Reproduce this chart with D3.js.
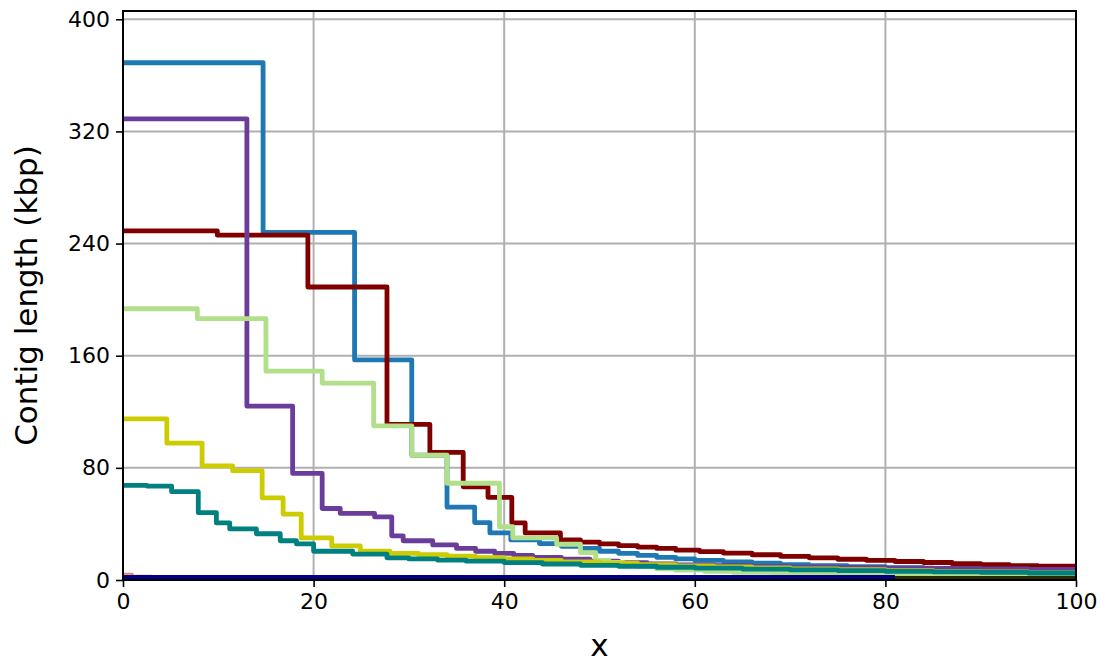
<!DOCTYPE html>
<html>
<head>
<meta charset="utf-8">
<script src="https://cdn.jsdelivr.net/npm/d3@7"></script>
<style>
  body { margin: 0; background: #fff; }
  text { font-family: "DejaVu Sans", sans-serif; }
</style>
</head>
<body>
<div id="chart"></div>
<script>
// step series, x = breakpoint (%), y = contig length (kbp); each step holds until next x
var blueX = [0, 14.7, 24.3, 30.3, 34.0, 36.9, 38.5, 40.7, 43.7, 46, 48, 50, 52, 54, 56, 58, 60, 63, 66, 69, 72, 76, 80, 84, 88, 92, 96, 100];
var blueY = [369, 248, 157, 89, 52, 41, 33.6, 28.6, 26, 24, 22.5, 20.5, 19, 17.5, 16.2, 15, 14, 13, 12, 11, 10.3, 9.5, 8.8, 8.2, 7.7, 7.2, 6.8, 6.4];

var redX = [0, 9.9, 19.4, 27.7, 32.2, 35.7, 38.3, 40.8, 42.2, 45.9, 48, 50, 52, 54, 56, 58, 60.5, 63, 66, 69, 72, 75, 78, 81, 84, 87, 90, 93, 96, 100];
var redY = [249, 246, 209, 111, 91, 66.5, 59, 40.7, 33.6, 28.6, 27, 25.8, 24.5, 23.5, 22.5, 21.3, 20.3, 19.2, 18, 16.8, 15.8, 14.8, 14, 13.2, 12.5, 11.6, 11, 10.3, 9.8, 9.3];

var purpleX = [0, 13.0, 17.8, 20.9, 22.8, 26.4, 28.2, 29.4, 32.5, 35, 37, 39, 41, 43, 46, 49, 52, 55, 58, 62, 66, 70, 75, 80, 85, 90, 95, 100];
var purpleY = [329, 124, 76, 51, 47.5, 45, 31.5, 28, 25, 22.5, 20.5, 19, 17.5, 16.2, 14.8, 13.5, 12.4, 11.5, 10.8, 10.2, 9.6, 9.2, 8.8, 8.5, 8.2, 7.9, 7.6, 7.4];

var greenX = [0, 7.8, 15.0, 20.9, 26.3, 30.3, 34.0, 39.5, 40.9, 45.5, 48, 49.6, 51, 52.5, 54, 56, 58, 61, 64, 68, 72, 77, 82, 88, 94, 100];
var greenY = [193.5, 186.5, 149, 140.5, 110, 89, 69, 38, 30, 25.5, 19.5, 14, 12.5, 11, 9.5, 8, 7, 6.2, 5.5, 4.9, 4.4, 3.9, 3.4, 3, 2.7, 2.5];

var yellowX = [0, 4.6, 8.3, 11.5, 14.6, 16.8, 18.7, 21.9, 24.9, 28, 31, 34, 37, 40, 43, 46, 50, 54, 58, 62, 66, 70, 75, 80, 85, 90, 95, 100];
var yellowY = [115, 97.6, 81.4, 78, 58.6, 47, 30, 24.3, 20.5, 19, 18, 17, 16, 15, 14, 13, 12, 11, 10, 9.3, 8.6, 8, 7.3, 6.7, 6.2, 5.7, 5.2, 4.8];

var tealX = [0, 2.5, 5.1, 7.9, 9.8, 11.2, 14.0, 16.5, 18.2, 20.0, 24.1, 27.7, 30, 33, 36, 40, 44, 48, 52, 56, 60, 65, 70, 75, 80, 85, 90, 95, 100];
var tealY = [67.5, 67, 63, 48, 40.7, 36.4, 33, 28, 25.7, 20.5, 18.5, 15.8, 15, 14.2, 13.4, 12.4, 11.4, 10.5, 9.8, 9.1, 8.5, 7.8, 7.2, 6.7, 6.2, 5.8, 5.4, 5, 4.7];

var orangeX = [0, 1, 3, 10, 30, 60, 100];
var orangeY = [4.5, 3, 2.6, 2.3, 2, 1.8, 1.6];

var darkX = [0, 100];
var darkY = [1.2, 1.2];

var navyX = [0, 81];
var navyY = [1.8, 1.8];

var xTicks = [0, 20, 40, 60, 80, 100];
var yTicks = [0, 80, 160, 240, 320, 400];

var series = [
  { xs: blueX, ys: blueY, color: "#1f77b4", width: 4.8 },
  { xs: redX, ys: redY, color: "#800000", width: 4.8 },
  { xs: purpleX, ys: purpleY, color: "#6a3d9a", width: 4.8 },
  { xs: greenX, ys: greenY, color: "#b2df8a", width: 4.8 },
  { xs: yellowX, ys: yellowY, color: "#cccc00", width: 4.8 },
  { xs: tealX, ys: tealY, color: "#008080", width: 4.8 },
  { xs: orangeX, ys: orangeY, color: "#e8806c", width: 2 },
  { xs: darkX, ys: darkY, color: "#2a2a00", width: 4.8 },
  { xs: navyX, ys: navyY, color: "#000080", width: 4.8 }
];

var w = 1105, h = 661;
var margin = { top: 11, right: 29, bottom: 81, left: 123 };
var innerWidth = w - margin.left - margin.right;
var innerHeight = h - margin.top - margin.bottom;

var svg = d3.select("#chart").append("svg")
  .attr("width", w).attr("height", h)
  .append("g")
  .attr("transform", "translate(" + margin.left + "," + margin.top + ")");

var xScale = d3.scaleLinear().domain([0, 100]).range([0, innerWidth]);
var yScale = d3.scaleLinear().domain([0, 369 * 1.1]).range([innerHeight, 0]);

// grid
svg.append("g").selectAll("line").data(xTicks).enter().append("line")
  .attr("x1", d => xScale(d)).attr("x2", d => xScale(d))
  .attr("y1", 0).attr("y2", innerHeight)
  .style("stroke", "#b0b0b0").style("stroke-width", 2);
svg.append("g").selectAll("line").data(yTicks).enter().append("line")
  .attr("x1", 0).attr("x2", innerWidth)
  .attr("y1", d => yScale(d)).attr("y2", d => yScale(d))
  .style("stroke", "#b0b0b0").style("stroke-width", 2);

// step lines
svg.append("clipPath").attr("id", "clip").append("rect")
  .attr("x", 0).attr("y", -5).attr("width", innerWidth).attr("height", innerHeight + 5);

var line = d3.line()
  .x(d => xScale(d[0]))
  .y(d => yScale(d[1]))
  .curve(d3.curveStepAfter);

series.forEach(function(s) {
  var pts = s.xs.map((x, i) => [x, s.ys[i]]);
  svg.append("path")
    .datum(pts)
    .attr("d", line)
    .attr("clip-path", "url(#clip)")
    .style("fill", "none")
    .style("stroke", s.color)
    .style("stroke-width", s.width)
    .style("stroke-linejoin", "round");
});

// axes
var xAxis = svg.append("g")
  .attr("transform", "translate(0," + innerHeight + ")")
  .call(d3.axisBottom(xScale).tickValues(xTicks).tickSize(7).tickPadding(6));
var yAxis = svg.append("g")
  .call(d3.axisLeft(yScale).tickValues(yTicks).tickSize(7).tickPadding(6));

[xAxis, yAxis].forEach(function(a) {
  a.select(".domain").remove();
  a.selectAll("line").style("stroke", "#000").style("stroke-width", 1.6);
  a.selectAll("text").style("font-size", "22px").style("font-family", "DejaVu Sans").attr("fill", "#000");
});

// frame
svg.append("rect")
  .attr("x", 0).attr("y", 0).attr("width", innerWidth).attr("height", innerHeight)
  .style("fill", "none").style("stroke", "#000").style("stroke-width", 2);

// labels
svg.append("text")
  .attr("x", innerWidth / 2)
  .attr("y", innerHeight + 76)
  .attr("text-anchor", "middle")
  .style("font-size", "31px")
  .text("x");

svg.append("text")
  .attr("text-anchor", "middle")
  .attr("transform", "translate(-86," + innerHeight / 2 + ")rotate(-90)")
  .style("font-size", "31px")
  .text("Contig length (kbp)");
</script>
</body>
</html>
